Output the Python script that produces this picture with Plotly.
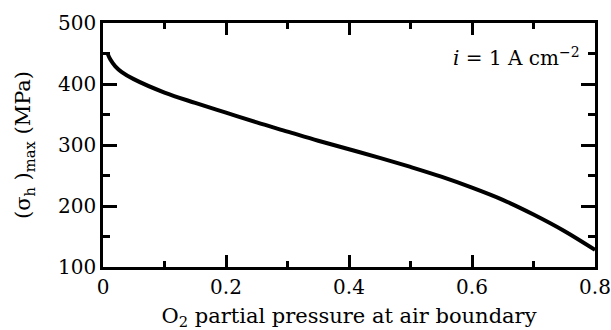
import plotly.graph_objects as go

# O2 partial pressure at air boundary
o2_pressure = [0.007, 0.012, 0.02, 0.03, 0.05, 0.1, 0.15, 0.2, 0.25, 0.3, 0.35, 0.4,
               0.45, 0.5, 0.55, 0.6, 0.65, 0.7, 0.75, 0.8]
# (sigma_h)_max in MPa
sigma_max = [451, 440, 429, 420, 408, 386, 369, 353, 337, 322, 307, 293,
             279, 264, 248, 230, 210, 186, 159, 128]

x_ticks = [0, 0.2, 0.4, 0.6, 0.8]
x_tick_labels = ["0", "0.2", "0.4", "0.6", "0.8"]
y_ticks = [100, 200, 300, 400, 500]
y_tick_labels = ["100", "200", "300", "400", "500"]

FONT = "DejaVu Serif"

fig = go.Figure()
fig.add_trace(go.Scatter(
    x=o2_pressure, y=sigma_max, mode="lines",
    line=dict(color="black", width=4, shape="spline", smoothing=1.0),
    showlegend=False, hoverinfo="skip",
))

axis_common = dict(
    showgrid=False, zeroline=False, showline=True, linecolor="black",
    linewidth=2.5, mirror="allticks", ticks="inside", tickcolor="black",
    tickwidth=2.5, tickfont=dict(family=FONT, size=20, color="black"),
    automargin=False,
)

fig.update_xaxes(
    range=[0, 0.8], tickvals=x_ticks, ticktext=x_tick_labels, ticklen=12,
    minor=dict(dtick=0.1, ticks="inside", ticklen=6, tickwidth=2.5, tickcolor="black"),
    title=dict(text="O<sub>2</sub> partial pressure at air boundary",
               font=dict(family=FONT, size=21, color="black"), standoff=12),
    **axis_common,
)
fig.update_yaxes(
    range=[100, 500], tickvals=y_ticks, ticktext=y_tick_labels, ticklen=14,
    minor=dict(dtick=50, ticks="inside", ticklen=7, tickwidth=2.5, tickcolor="black"),
    title=dict(text="(σ<sub>h</sub> )<sub>max</sub> (MPa)",
               font=dict(family=FONT, size=21, color="black"), standoff=22),
    **axis_common,
)

fig.add_annotation(
    text="<i>i</i> = 1 A cm<sup>−2</sup>", xref="paper", yref="paper",
    x=0.974, y=0.86, xanchor="right", yanchor="middle", showarrow=False,
    font=dict(family=FONT, size=20, color="black"),
)

fig.update_layout(
    width=611, height=330,
    margin=dict(l=103, r=16, t=23, b=63),
    paper_bgcolor="white", plot_bgcolor="white",
    font=dict(family=FONT, color="black"),
)

fig.write_html("out.html")
